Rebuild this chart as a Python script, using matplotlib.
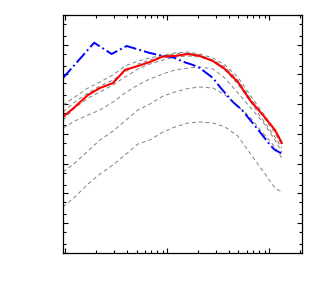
import matplotlib
matplotlib.use("Agg")
import matplotlib.pyplot as plt
from matplotlib.ticker import LogLocator, NullFormatter

# shared x grid of the gray dashed curves
x_grid = [0.095, 0.124, 0.167, 0.219, 0.294, 0.385, 0.516, 0.676, 0.908, 1.19,
          1.60, 2.09, 2.81, 3.68, 4.93, 6.47, 8.68, 11.4, 13.3]

red_y = [3.73e-4, 8.09e-4, 2.05e-3, 3.52e-3, 5.18e-3, 1.42e-2, 1.93e-2, 2.63e-2,
         4.03e-2, 4.19e-2, 4.89e-2, 4.19e-2, 2.84e-2, 1.53e-2, 5.60e-3, 1.39e-3,
         4.35e-4, 1.36e-4, 4.99e-5]

gray_1 = [9.44e-4, 1.75e-3, 3.52e-3, 5.60e-3, 9.62e-3, 1.93e-2, 2.84e-2, 3.59e-2,
          4.52e-2, 5.28e-2, 5.70e-2, 4.89e-2, 3.59e-2, 2.09e-2, 8.24e-3, 2.05e-3,
          5.08e-4, 1.36e-4, 5.82e-5]
gray_2 = [5.49e-4, 1.19e-3, 2.39e-3, 4.10e-3, 6.53e-3, 1.21e-2, 2.25e-2, 3.07e-2,
          4.19e-2, 4.89e-2, 5.28e-2, 4.52e-2, 3.07e-2, 1.79e-2, 6.53e-3, 1.62e-3,
          4.03e-4, 1.08e-4, 4.27e-5]
gray_3 = [2.96e-4, 7.48e-4, 1.62e-3, 2.58e-3, 4.44e-3, 8.24e-3, 1.53e-2, 2.25e-2,
          3.07e-2, 3.87e-2, 4.19e-2, 3.87e-2, 2.84e-2, 1.42e-2, 4.80e-3, 1.29e-3,
          2.96e-4, 7.93e-5, 3.38e-5]
gray_4 = [1.59e-4, 2.74e-4, 4.35e-4, 6.41e-4, 1.19e-3, 2.39e-3, 4.44e-3, 7.06e-3,
          1.04e-2, 1.42e-2, 1.65e-2, 1.79e-2, 1.53e-2, 7.63e-3, 2.39e-3, 8.09e-4,
          2.53e-4, 6.28e-5, 2.48e-5]
gray_5 = [5.28e-6, 1.06e-5, 2.68e-5, 6.28e-5, 1.26e-4, 2.74e-4, 6.41e-4, 1.02e-3,
          1.89e-3, 2.58e-3, 3.38e-3, 3.80e-3, 3.52e-3, 2.05e-3, 8.73e-4, 3.73e-4,
          1.08e-4, 3.66e-5, 1.56e-5]
gray_6 = [3.52e-7, 7.62e-7, 2.09e-6, 4.52e-6, 9.08e-6, 1.97e-5, 4.61e-5, 6.28e-5,
          1.17e-4, 1.72e-4, 2.34e-4, 2.53e-4, 2.34e-4, 1.72e-4, 8.57e-5, 2.30e-5,
          5.71e-6, 1.53e-6, 1.12e-6]

blue_x = [0.095, 0.192, 0.285, 0.400, 0.540, 0.676, 0.908, 1.14, 1.43, 1.79,
          2.09, 2.81, 3.29, 4.41, 5.40, 6.76, 8.11, 10.2, 11.4, 13.3]
blue_y = [7.63e-3, 0.117, 4.89e-2, 9.08e-2, 6.67e-2, 5.28e-2, 4.19e-2, 3.79e-2,
          2.69e-2, 2.09e-2, 1.65e-2, 7.63e-3, 3.80e-3, 1.19e-3, 6.41e-4, 2.53e-4,
          1.17e-4, 4.27e-5, 2.90e-5, 2.21e-5]

fig = plt.figure(figsize=(3.29, 3.0), dpi=100)
ax = fig.add_axes([0.1915, 0.1567, 0.7265, 0.7933])

for g in [gray_6, gray_5, gray_4, gray_3, gray_2, gray_1]:
    ax.plot(x_grid, g, color="#808080", lw=0.7, ls=(0, (4, 3)))
ax.plot(blue_x, blue_y, color="#0000ff", lw=1.4, ls="-.")
ax.plot(x_grid, red_y, color="#ff0000", lw=1.5)

ax.set_xscale("log")
ax.set_yscale("log")
ax.set_xlim(0.095, 21)
ax.set_ylim(1e-8, 1)

ax.xaxis.set_major_locator(LogLocator(base=10, numticks=10))
ax.xaxis.set_minor_locator(LogLocator(base=10, subs=range(2, 10), numticks=20))
ax.yaxis.set_major_locator(LogLocator(base=10, numticks=20))
ax.yaxis.set_minor_locator(LogLocator(base=10, subs=(2.0, 5.0), numticks=20))
for axis in (ax.xaxis, ax.yaxis):
    axis.set_major_formatter(NullFormatter())
    axis.set_minor_formatter(NullFormatter())
ax.tick_params(which="both", direction="in", top=True, right=True, width=0.8)
ax.tick_params(which="major", length=3.5)
ax.tick_params(which="minor", length=2)
for s in ax.spines.values():
    s.set_linewidth(0.9)

fig.savefig("out.png", dpi=100)
